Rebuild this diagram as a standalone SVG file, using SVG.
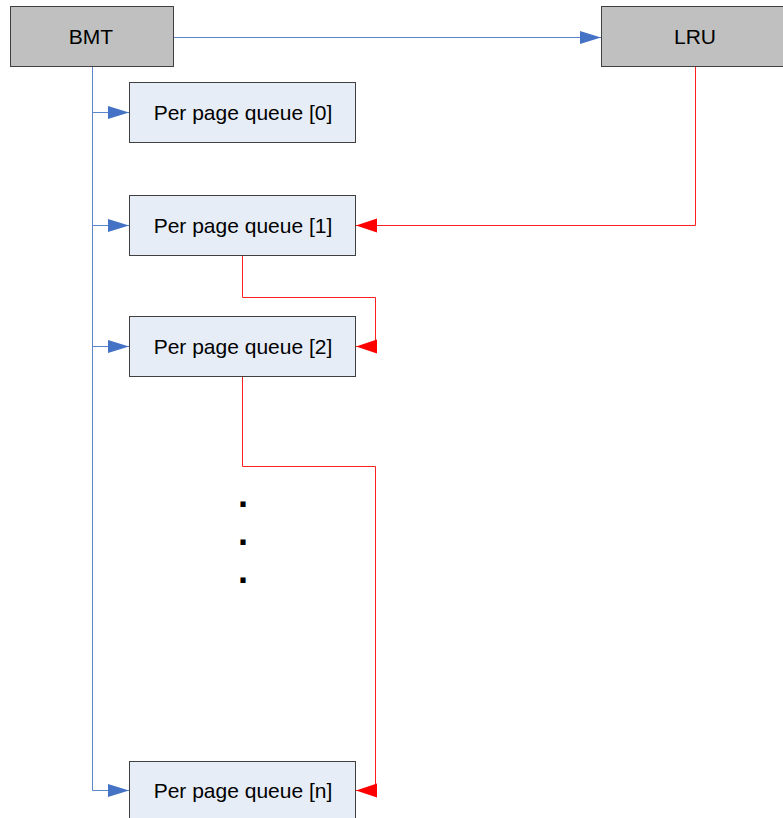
<svg xmlns="http://www.w3.org/2000/svg" width="783" height="818" viewBox="0 0 783 818">
  <style>
    .head { fill: #C0C0C0; stroke: #404040; stroke-width: 1; }
    .queue { fill: #E7EDF7; stroke: #404040; stroke-width: 1; }
    .label { font-family: "Liberation Sans", Arial, sans-serif; font-size: 21px; fill: #000; text-anchor: middle; }
    .dot { font-family: "Liberation Sans", Arial, sans-serif; font-size: 36px; font-weight: bold; fill: #000; text-anchor: middle; }
    .blue { fill: none; stroke: #5B86CC; stroke-width: 1; }
    .red { fill: none; stroke: #FF2020; stroke-width: 1; }
  </style>
  <defs>
    <marker id="arrowBlue" markerUnits="userSpaceOnUse" markerWidth="22" markerHeight="14" refX="21" refY="6.5" orient="auto">
      <path d="M0,0 L21,6.5 L0,13 z" fill="#4472C4"/>
    </marker>
    <marker id="arrowRed" markerUnits="userSpaceOnUse" markerWidth="22" markerHeight="15" refX="21" refY="7" orient="auto">
      <path d="M0,0 L21,7 L0,14 z" fill="#FF0000"/>
    </marker>
  </defs>

  <rect width="783" height="818" fill="#FFFFFF"/>

  <!-- connectors -->
  <g id="connectors">
    <path class="blue" d="M173,37.5 H601" marker-end="url(#arrowBlue)"/>
    <path class="blue" d="M92.5,67 V790.5 H129" marker-end="url(#arrowBlue)"/>
    <path class="blue" d="M92.5,112.5 H129" marker-end="url(#arrowBlue)"/>
    <path class="blue" d="M92.5,225.5 H129" marker-end="url(#arrowBlue)"/>
    <path class="blue" d="M92.5,346.5 H129" marker-end="url(#arrowBlue)"/>
    <path class="red" d="M695.5,67 V225.5 H356" marker-end="url(#arrowRed)"/>
    <path class="red" d="M242.5,255 V297.5 H375.5 V346.5 H356" marker-end="url(#arrowRed)"/>
    <path class="red" d="M242.5,376 V466.5 H375.5 V790.5 H356" marker-end="url(#arrowRed)"/>
  </g>

  <!-- nodes -->
  <g id="bmt">
    <rect class="head" x="10.5" y="6.5" width="163" height="60"/>
    <text class="label" x="91" y="43.5">BMT</text>
  </g>
  <g id="lru">
    <rect class="head" x="601.5" y="6.5" width="188" height="60"/>
    <text class="label" x="695" y="43.5">LRU</text>
  </g>
  <g id="queue0">
    <rect class="queue" x="129.5" y="82.5" width="226" height="60"/>
    <text class="label" x="243" y="119.5">Per page queue [0]</text>
  </g>
  <g id="queue1">
    <rect class="queue" x="129.5" y="195.5" width="226" height="60"/>
    <text class="label" x="243" y="232.5">Per page queue [1]</text>
  </g>
  <g id="queue2">
    <rect class="queue" x="129.5" y="316.5" width="226" height="60"/>
    <text class="label" x="243" y="353.5">Per page queue [2]</text>
  </g>
  <g id="queueN">
    <rect class="queue" x="129.5" y="761.5" width="226" height="60"/>
    <text class="label" x="243" y="797.5">Per page queue [n]</text>
  </g>

  <!-- ellipsis between queue [2] and queue [n] -->
  <g id="ellipsis">
    <text class="dot" x="243" y="507">.</text>
    <text class="dot" x="243" y="545">.</text>
    <text class="dot" x="243" y="583">.</text>
  </g>
</svg>
